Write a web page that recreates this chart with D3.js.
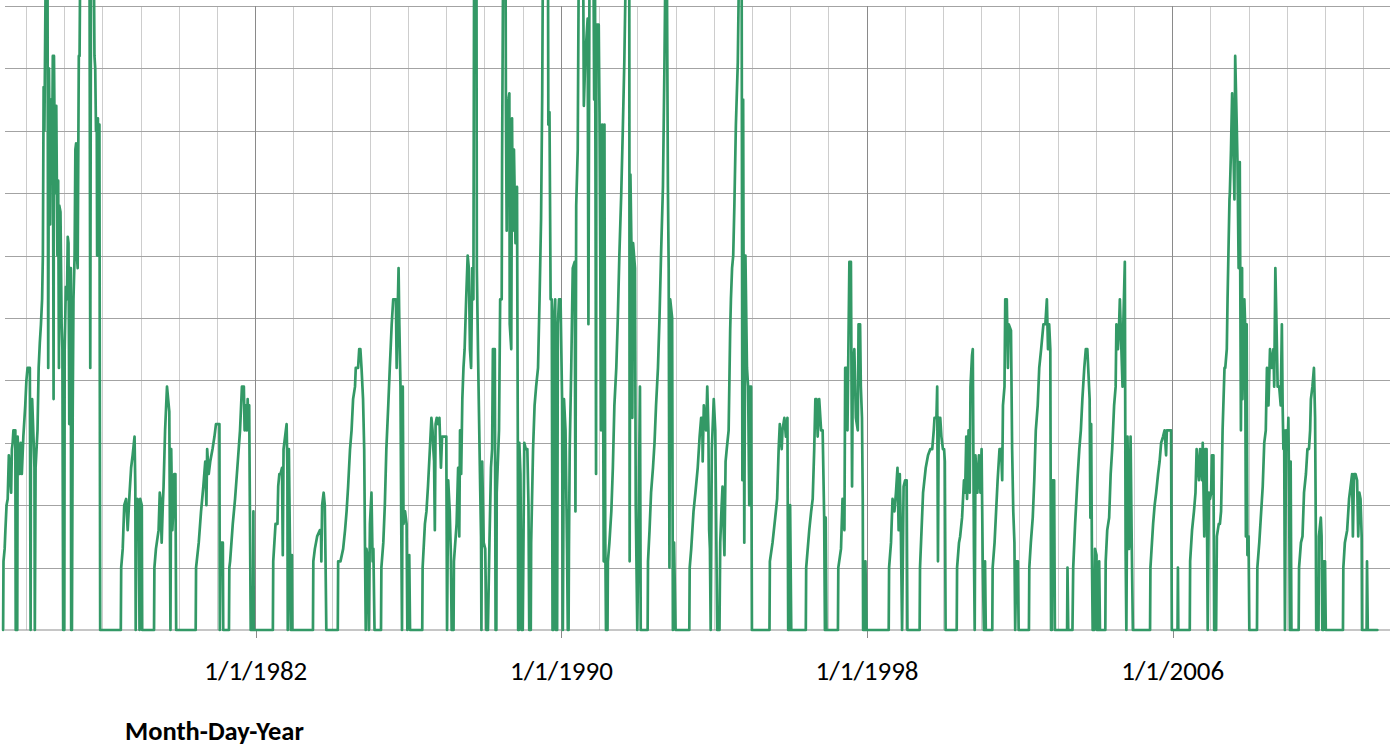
<!DOCTYPE html>
<html>
<head>
<meta charset="utf-8">
<script src="https://cdn.jsdelivr.net/npm/d3@7"></script>
<style>
  html, body { margin: 0; padding: 0; background: #ffffff; }
  svg { display: block; }
</style>
</head>
<body>
<svg id="chart" width="1390" height="748"></svg>
<script>
// ---- data: [decimal year, value] ----
const era1975_1981 = [
[1975.40,0],[1975.41,11],[1975.44,13],[1975.46,16],[1975.49,20],[1975.52,21],[1975.55,28],[1975.58,25],[1975.61,22],[1975.63,29],[1975.65,30],[1975.67,32],[1975.72,32],[1975.73,0],[1975.77,0],[1975.78,31],[1975.80,28],[1975.83,25],[1975.86,30],[1975.89,25],[1975.93,31],[1975.96,34],[1975.98,36],[1976.01,40],[1976.04,42],[1976.10,42],[1976.11,19],[1976.12,0],[1976.13,36],[1976.16,37],[1976.20,30],[1976.22,26],[1976.23,0],[1976.25,26],[1976.30,32],[1976.33,42],[1976.36,46],[1976.39,49],[1976.42,53],[1976.44,60],[1976.46,87],[1976.48,80],[1976.50,95],[1976.52,110],[1976.56,110],[1976.58,42],[1976.60,90],[1976.63,65],[1976.65,85],[1976.68,75],[1976.70,92],[1976.72,37],[1976.73,92],[1976.76,70],[1976.79,84],[1976.82,60],[1976.84,72],[1976.86,42],[1976.87,68],[1976.90,67],[1976.93,49],[1976.95,45],[1976.97,0],[1977.00,0],[1977.01,45],[1977.04,55],[1977.07,53],[1977.09,63],[1977.11,62],[1977.13,33],[1977.15,58],[1977.17,58],[1977.18,0],[1977.20,0],[1977.22,35],[1977.24,53],[1977.27,60],[1977.29,77],[1977.31,78],[1977.33,60],[1977.35,58],[1977.38,92],[1977.40,92],[1977.42,110],[1977.66,110],[1977.68,42],[1977.70,110],[1977.77,110],[1977.79,92],[1977.81,90],[1977.83,80],[1977.85,81],[1977.86,60],[1977.88,82],[1977.90,60],[1977.92,81],[1977.94,0],
[1978.48,0],[1978.49,10],[1978.53,13],[1978.57,20],[1978.62,21],[1978.66,16],[1978.71,22],[1978.75,26],[1978.79,28],[1978.84,31],[1978.86,23],[1978.87,0],[1978.89,20],[1978.92,21],[1978.95,20],[1978.97,0],[1978.99,21],[1979.03,20],[1979.04,0],
[1979.35,0],[1979.36,10],[1979.40,13],[1979.47,16],[1979.50,22],[1979.52,21],[1979.55,14],[1979.58,20],[1979.60,23],[1979.64,32],[1979.69,39],[1979.72,37],[1979.75,35],[1979.78,0],[1979.80,29],[1979.83,16],[1979.86,20],[1979.88,25],[1979.91,25],[1979.93,0],
[1980.44,0],[1980.45,10],[1980.52,14],[1980.58,19],[1980.64,23],[1980.69,27],[1980.72,20],[1980.74,29],[1980.78,25],[1980.82,27],[1980.88,29],[1980.93,31],[1980.97,33],[1981.06,33],[1981.07,0],[1981.09,14],[1981.15,14],[1981.16,0],
[1981.31,0],[1981.32,10],[1981.34,11],[1981.41,17],[1981.47,21],[1981.53,26],[1981.60,32],[1981.65,39],[1981.70,39],[1981.72,32],[1981.75,36],[1981.78,32],[1981.80,37],[1981.82,32],[1981.84,36],[1981.88,0],[1981.94,0],[1981.95,19],[1981.96,0]
];
const era1982_1987 = [
[1982.46,0],[1982.47,11],[1982.53,17],[1982.58,17],[1982.60,23],[1982.63,25],[1982.66,25],[1982.70,26],[1982.72,12],[1982.74,29],[1982.78,31],[1982.82,33],[1982.84,26],[1982.85,0],[1982.88,29],[1982.91,12],[1982.93,0],[1982.96,12],[1982.97,0],
[1983.51,0],[1983.52,11],[1983.56,13],[1983.62,15],[1983.69,16],[1983.72,16],[1983.73,11],[1983.75,20],[1983.79,22],[1983.82,20],[1983.84,11],[1983.86,0],
[1984.16,0],[1984.17,11],[1984.23,11],[1984.30,13],[1984.35,16],[1984.39,19],[1984.43,23],[1984.48,29],[1984.52,32],[1984.56,37],[1984.61,39],[1984.63,42],[1984.69,42],[1984.72,45],[1984.75,45],[1984.78,42],[1984.82,37],[1984.85,29],[1984.87,14],[1984.89,0],[1984.91,13],[1984.95,11],[1984.97,0],[1985.00,17],[1985.04,22],[1985.07,11],[1985.09,13],[1985.12,0],
[1985.29,0],[1985.30,10],[1985.35,14],[1985.39,20],[1985.43,29],[1985.48,36],[1985.52,42],[1985.57,49],[1985.61,53],[1985.68,53],[1985.70,42],[1985.72,49],[1985.75,58],[1985.77,49],[1985.80,39],[1985.82,17],[1985.84,0],[1985.86,39],[1985.88,17],[1985.92,19],[1985.96,17],[1985.98,0],[1986.03,12],[1986.05,0],
[1986.37,0],[1986.38,10],[1986.44,17],[1986.48,19],[1986.52,23],[1986.57,29],[1986.61,34],[1986.64,32],[1986.66,29],[1986.68,27],[1986.70,16],[1986.72,33],[1986.75,34],[1986.78,33],[1986.82,34],[1986.86,26],[1986.89,31],[1986.93,31],[1987.00,31],[1987.02,0],[1987.05,24],[1987.09,19],[1987.12,12],[1987.14,0],
[1987.19,0],[1987.20,11],[1987.27,17],[1987.31,26],[1987.34,15],[1987.36,32],[1987.39,25],[1987.42,37],[1987.45,42],[1987.48,45],[1987.52,53],[1987.56,60],[1987.59,58],[1987.62,45],[1987.65,42],[1987.68,58],[1987.71,53],[1987.73,110],[1987.79,110],[1987.80,58],[1987.83,45],[1987.85,37],[1987.89,22],[1987.91,15],[1987.92,0],[1987.94,27],[1987.98,14],[1988.02,13],[1988.05,0]
];
const era1988_1992 = [
[1988.09,0],[1988.13,14],[1988.17,26],[1988.20,29],[1988.22,45],[1988.27,45],[1988.29,0],[1988.31,0],[1988.32,22],[1988.38,32],[1988.41,53],[1988.45,53],[1988.46,75],[1988.49,110],[1988.55,110],[1988.56,84],[1988.58,64],[1988.60,84],[1988.65,86],[1988.66,49],[1988.70,45],[1988.72,82],[1988.74,64],[1988.77,77],[1988.81,62],[1988.85,71],[1988.87,32],[1988.88,0],[1988.90,0],[1988.91,30],[1988.94,25],[1988.97,0],[1989.00,0],[1989.04,30],[1989.08,29],[1989.12,29],[1989.15,20],[1989.17,0],[1989.21,0],[1989.22,14],[1989.27,29],[1989.31,36],[1989.35,39],[1989.40,42],[1989.44,53],[1989.48,66],[1989.51,86],[1989.53,110],[1989.66,110],[1989.67,81],[1989.70,83],[1989.73,53],[1989.76,53],[1989.78,0],[1989.80,0],[1989.81,49],[1989.85,53],[1989.87,0],[1989.90,0],[1989.92,49],[1989.95,53],[1989.99,53],[1990.03,37],[1990.05,0],[1990.08,37],[1990.12,32],[1990.16,13],[1990.18,0],
[1990.20,0],[1990.21,13],[1990.23,29],[1990.27,42],[1990.31,58],[1990.36,59],[1990.38,19],[1990.40,68],[1990.44,77],[1990.47,110],[1990.58,110],[1990.60,84],[1990.64,92],[1990.70,98],[1990.72,49],[1990.75,110],[1990.85,110],[1990.87,85],[1990.89,110],[1990.91,59],[1990.92,25],[1990.93,97],[1990.99,97],[1991.01,83],[1991.03,60],[1991.05,32],[1991.08,81],[1991.10,50],[1991.12,11],[1991.14,81],[1991.16,16],[1991.18,0],
[1991.22,0],[1991.23,11],[1991.27,14],[1991.32,19],[1991.36,26],[1991.40,36],[1991.45,42],[1991.49,50],[1991.53,60],[1991.58,70],[1991.62,80],[1991.66,91],[1991.71,110],[1991.79,110],[1991.80,11],[1991.82,73],[1991.85,60],[1991.87,34],[1991.89,62],[1991.94,58],[1991.96,20],[1992.00,0],[1992.04,20],[1992.07,39],[1992.09,0],
[1992.27,0],[1992.28,11],[1992.32,16],[1992.36,22],[1992.41,26],[1992.45,30],[1992.49,36],[1992.54,42],[1992.58,50],[1992.62,60],[1992.67,71],[1992.71,91],[1992.74,110],[1992.77,110],[1992.80,71],[1992.82,58],[1992.84,10],[1992.86,53],[1992.91,50],[1992.93,0],[1992.96,14],[1993.00,0]
];
const era1993_1999 = [
[1993.36,0],[1993.37,10],[1993.41,13],[1993.47,19],[1993.52,22],[1993.58,26],[1993.63,31],[1993.67,34],[1993.70,34],[1993.71,27],[1993.74,36],[1993.76,34],[1993.80,32],[1993.83,39],[1993.86,32],[1993.88,16],[1993.90,13],[1993.92,0],[1993.95,29],[1994.00,37],[1994.04,32],[1994.07,13],[1994.09,0],[1994.15,0],[1994.17,14],[1994.20,19],[1994.23,23],[1994.26,16],[1994.28,12],[1994.31,27],[1994.34,29],[1994.39,32],[1994.43,48],[1994.45,53],[1994.48,58],[1994.51,60],[1994.54,68],[1994.58,81],[1994.63,91],[1994.67,110],[1994.73,110],[1994.75,24],[1994.77,85],[1994.80,14],[1994.83,60],[1994.87,42],[1994.90,39],[1994.93,20],[1994.95,39],[1994.98,39],[1995.00,0],
[1995.46,0],[1995.47,11],[1995.54,14],[1995.61,18],[1995.66,21],[1995.70,29],[1995.73,33],[1995.78,29],[1995.80,32],[1995.85,34],[1995.89,31],[1995.93,34],[1995.95,0],[1995.98,0],[1996.00,20],[1996.03,0],
[1996.41,0],[1996.42,10],[1996.46,13],[1996.50,16],[1996.55,19],[1996.59,21],[1996.63,29],[1996.66,37],[1996.69,37],[1996.72,31],[1996.76,37],[1996.81,32],[1996.85,32],[1996.89,18],[1996.91,0],[1996.93,18],[1996.95,0],
[1997.25,0],[1997.26,10],[1997.33,13],[1997.37,21],[1997.42,16],[1997.44,42],[1997.48,42],[1997.50,32],[1997.55,59],[1997.59,59],[1997.62,23],[1997.64,42],[1997.68,45],[1997.72,34],[1997.77,32],[1997.79,49],[1997.83,49],[1997.85,39],[1997.88,34],[1997.90,21],[1997.91,0],[1997.95,0],[1997.97,11],[1998.00,0],
[1998.58,0],[1998.59,10],[1998.64,14],[1998.68,21],[1998.73,19],[1998.77,22],[1998.81,26],[1998.84,16],[1998.87,25],[1998.90,15],[1998.93,0],[1998.97,23],[1999.01,24],[1999.05,24],[1999.07,0],
[1999.39,0],[1999.40,10],[1999.44,16],[1999.48,22],[1999.55,26],[1999.61,28],[1999.67,29],[1999.72,29],[1999.76,32],[1999.78,34],[1999.83,34],[1999.85,39],[1999.87,11],[1999.89,34],[1999.93,34],[1999.96,31],[1999.98,30],[2000.00,29],[2000.03,29],[2000.05,27],[2000.07,0]
];
const era2000_2004 = [
[2000.36,0],[2000.37,10],[2000.42,14],[2000.45,15],[2000.50,18],[2000.55,24],[2000.58,22],[2000.61,31],[2000.63,21],[2000.67,32],[2000.70,22],[2000.72,39],[2000.76,44],[2000.78,45],[2000.81,13],[2000.83,0],[2000.85,28],[2000.90,22],[2000.94,28],[2000.98,22],[2001.01,29],[2001.04,11],[2001.07,0],[2001.10,11],[2001.12,0],
[2001.29,0],[2001.30,10],[2001.35,14],[2001.39,19],[2001.43,24],[2001.48,29],[2001.52,29],[2001.55,24],[2001.57,36],[2001.61,39],[2001.63,53],[2001.67,53],[2001.70,42],[2001.72,49],[2001.78,48],[2001.81,29],[2001.84,19],[2001.87,14],[2001.89,0],[2001.92,11],[2001.96,11],[2001.98,0],
[2002.25,0],[2002.26,10],[2002.30,14],[2002.35,18],[2002.39,24],[2002.43,32],[2002.48,36],[2002.52,42],[2002.57,45],[2002.63,49],[2002.68,49],[2002.72,53],[2002.75,45],[2002.78,49],[2002.81,45],[2002.83,0],[2002.85,0],[2002.87,24],[2002.91,24],[2002.93,0],
[2003.25,0],[2003.26,10],[2003.28,0],[2003.39,0],[2003.41,10],[2003.46,17],[2003.52,24],[2003.57,29],[2003.61,32],[2003.65,37],[2003.70,42],[2003.74,45],[2003.78,45],[2003.81,41],[2003.84,37],[2003.86,18],[2003.88,33],[2003.90,12],[2003.92,0],[2003.96,0],[2003.98,13],[2004.02,12],[2004.03,0],[2004.07,0],[2004.09,11],[2004.11,0],
[2004.25,0],[2004.26,11],[2004.30,16],[2004.35,18],[2004.39,25],[2004.43,29],[2004.48,36],[2004.52,39],[2004.54,49],[2004.58,45],[2004.61,49],[2004.63,53],[2004.67,45],[2004.70,39],[2004.72,49],[2004.76,59],[2004.78,13],[2004.80,0],[2004.83,31],[2004.87,13],[2004.91,31],[2004.94,14],[2004.97,0]
];
const era2005_2011 = [
[2005.42,0],[2005.43,10],[2005.45,12],[2005.50,17],[2005.54,20],[2005.58,22],[2005.63,25],[2005.67,27],[2005.71,30],[2005.76,31],[2005.80,32],[2005.84,28],[2005.86,32],[2005.97,32],[2005.99,0],[2006.14,0],[2006.15,10],[2006.16,0],
[2006.46,0],[2006.47,11],[2006.52,16],[2006.57,19],[2006.61,22],[2006.64,29],[2006.70,24],[2006.73,29],[2006.78,24],[2006.80,30],[2006.84,15],[2006.87,29],[2006.90,29],[2006.93,0],[2006.96,22],[2006.99,21],[2007.02,22],[2007.04,28],[2007.08,28],[2007.10,0],[2007.15,0],[2007.17,15],[2007.22,17],[2007.25,17],[2007.28,19],[2007.30,25],[2007.32,32],[2007.37,42],[2007.39,42],[2007.43,45],[2007.45,53],[2007.50,69],[2007.51,70],[2007.54,77],[2007.57,86],[2007.60,78],[2007.63,69],[2007.65,92],[2007.69,81],[2007.71,75],[2007.74,58],[2007.77,75],[2007.80,32],[2007.83,58],[2007.84,37],[2007.89,53],[2007.91,49],[2007.93,15],[2007.95,49],[2007.97,12],[2008.00,15],[2008.02,0],
[2008.22,0],[2008.23,10],[2008.28,14],[2008.32,18],[2008.37,23],[2008.41,30],[2008.45,32],[2008.48,42],[2008.52,36],[2008.56,45],[2008.61,42],[2008.65,45],[2008.67,39],[2008.70,58],[2008.73,49],[2008.76,39],[2008.80,39],[2008.84,36],[2008.87,49],[2008.89,36],[2008.91,29],[2008.93,32],[2008.95,0],[2008.98,32],[2009.02,29],[2009.04,34],[2009.06,22],[2009.08,0],[2009.10,27],[2009.12,0],
[2009.31,0],[2009.32,10],[2009.37,14],[2009.41,15],[2009.45,22],[2009.50,25],[2009.54,29],[2009.58,29],[2009.61,32],[2009.63,37],[2009.67,39],[2009.71,42],[2009.74,34],[2009.76,15],[2009.77,0],[2009.83,0],[2009.84,15],[2009.89,18],[2009.91,15],[2009.93,0],[2009.96,0],[2009.97,11],[2010.00,11],[2010.02,0],
[2010.47,0],[2010.48,10],[2010.52,14],[2010.58,16],[2010.63,21],[2010.67,23],[2010.71,25],[2010.73,15],[2010.76,25],[2010.80,25],[2010.84,24],[2010.87,15],[2010.90,22],[2010.93,21],[2010.96,15],[2010.97,0],[2011.09,0],[2011.10,11],[2011.12,0],[2011.37,0]
];

const yGridValues = [10,20,30,40,50,60,70,80,90,100];
const majorTickYears = [1982, 1990, 1998, 2006];
const majorTickLabels = ["1/1/1982", "1/1/1990", "1/1/1998", "1/1/2006"];
const axisTitle = "Month-Day-Year";

// ---- helpers ----
function toDate(y) {
  const yr = Math.floor(y);
  const s = new Date(yr, 0, 1), e = new Date(yr + 1, 0, 1);
  return new Date(+s + (y - yr) * (e - s));
}
const series = [].concat(era1975_1981, era1982_1987, era1988_1992, era1993_1999, era2000_2004, era2005_2011)
  .map(d => ({ date: toDate(d[0]), value: d[1] }));

// ---- layout ----
const plot = { left: 4.5, right: 1390, top: 6, bottom: 630 };
const svg = d3.select("#chart");

const x = d3.scaleTime()
  .domain([new Date(1982, 0, 1), new Date(2006, 0, 1)])
  .range([255.3, 1172.2]);

const y = d3.scaleLinear()
  .domain([0, 100])
  .range([plot.bottom, plot.top]);

const snap = v => Math.round(v) + 0.5;

const yearsAll = d3.timeYear.range(new Date(1975, 0, 1), new Date(2013, 0, 1))
  .filter(d => x(d) >= plot.left && x(d) <= plot.right);
const majorSet = new Set(majorTickYears);

// minor vertical gridlines (every Jan 1)
svg.append("g").selectAll("line")
  .data(yearsAll.filter(d => !majorSet.has(d.getFullYear())))
  .join("line")
  .attr("x1", d => snap(x(d))).attr("x2", d => snap(x(d)))
  .attr("y1", plot.top).attr("y2", plot.bottom)
  .attr("stroke", "#cdcdcd").attr("stroke-width", 1)
  .attr("shape-rendering", "crispEdges");

// horizontal gridlines
svg.append("g").selectAll("line")
  .data(yGridValues)
  .join("line")
  .attr("x1", plot.left).attr("x2", plot.right)
  .attr("y1", d => snap(y(d))).attr("y2", d => snap(y(d)))
  .attr("stroke", "#a3a3a3").attr("stroke-width", 1)
  .attr("shape-rendering", "crispEdges");

// major vertical gridlines
svg.append("g").selectAll("line")
  .data(yearsAll.filter(d => majorSet.has(d.getFullYear())))
  .join("line")
  .attr("x1", d => snap(x(d))).attr("x2", d => snap(x(d)))
  .attr("y1", plot.top).attr("y2", plot.bottom)
  .attr("stroke", "#8a8a8a").attr("stroke-width", 1)
  .attr("shape-rendering", "crispEdges");

// x axis (major ticks + labels)
const xAxis = d3.axisBottom(x)
  .tickValues(majorTickYears.map(yr => new Date(yr, 0, 1)))
  .tickFormat((d, i) => majorTickLabels[i])
  .tickSize(8)
  .tickSizeOuter(0)
  .tickPadding(23);

const gx = svg.append("g")
  .attr("transform", `translate(0,${snap(plot.bottom) - 0.5})`)
  .call(xAxis);
gx.select(".domain").remove();
gx.selectAll(".tick line")
  .attr("stroke", "#8a8a8a")
  .attr("shape-rendering", "crispEdges")
  .attr("transform", "translate(0.5,0)");
gx.selectAll(".tick text")
  .attr("fill", "#000")
  .style("font-family", "Carlito, Calibri, Lato, 'Noto Sans', sans-serif")
  .style("font-size", "27px");
svg.append("line")
  .attr("x1", plot.left).attr("x2", plot.right)
  .attr("y1", snap(plot.bottom) - 0.5).attr("y2", snap(plot.bottom) - 0.5)
  .attr("stroke", "#8e8e8e").attr("stroke-width", 1.2);

// series line
const line = d3.line()
  .x(d => x(d.date))
  .y(d => y(d.value));

svg.append("path")
  .datum(series)
  .attr("d", line)
  .attr("fill", "none")
  .attr("stroke", "#339966")
  .attr("stroke-width", 2.7)
  .attr("stroke-linejoin", "round")
  .attr("stroke-linecap", "round");

// axis title
svg.append("text")
  .attr("x", 125)
  .attr("y", 740)
  .attr("fill", "#000")
  .style("font-family", "Carlito, Calibri, Lato, 'Noto Sans', sans-serif")
  .style("font-weight", "bold")
  .style("font-size", "26.5px")
  .text(axisTitle);
</script>
</body>
</html>
